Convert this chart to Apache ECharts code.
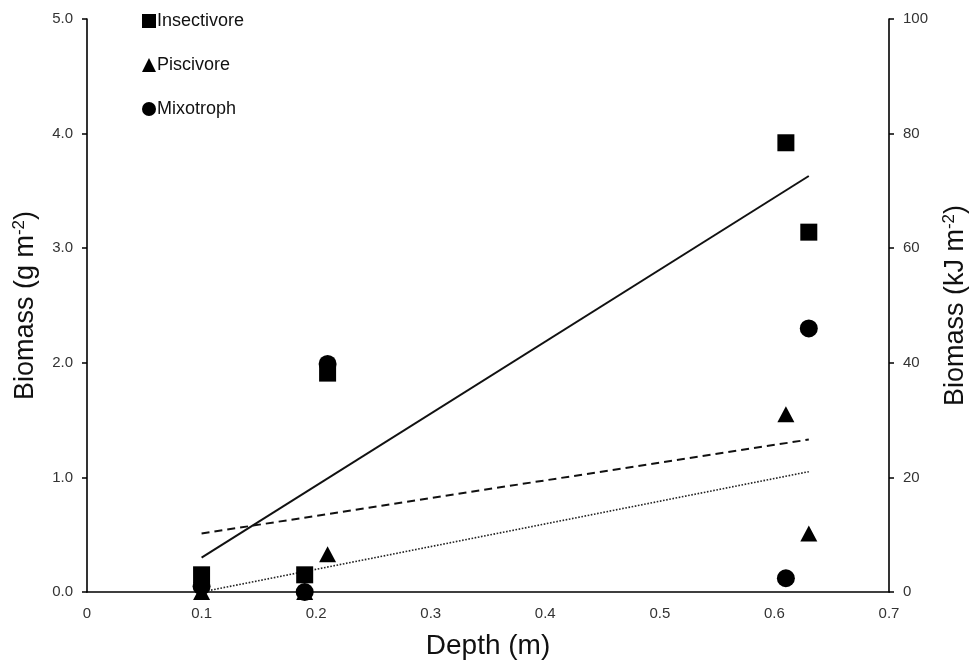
<!DOCTYPE html>
<html>
<head>
<meta charset="utf-8">
<title>Biomass by depth</title>
<script src="https://cdn.jsdelivr.net/npm/echarts@6/dist/echarts.min.js"></script>
<style>
  html, body { margin: 0; padding: 0; background: #fff; }
  #chart { width: 973px; height: 664px; }
</style>
</head>
<body>
<div id="chart"></div>
<script>
// Sampling depths (m)
const depths = [0.10, 0.19, 0.21, 0.61, 0.63];

// Biomass (g m-2) per feeding guild at each depth
const insectivore = [0.15, 0.15, 1.91, 3.92, 3.14];
const piscivore   = [0.00, 0.00, 0.33, 1.55, 0.51];
const mixotroph   = [0.05, 0.00, 1.99, 0.12, 2.30];

// Fitted trend lines: [depth, biomass] at start and end
const insectivoreFit = [[0.10, 0.30], [0.63, 3.63]];
const mixotrophFit   = [[0.10, 0.51], [0.63, 1.33]];
const piscivoreFit   = [[0.10, 0.00], [0.63, 1.05]];

// Axis settings
const depthTicks = [0, 0.1, 0.2, 0.3, 0.4, 0.5, 0.6, 0.7];
const gramTicks = [0, 1, 2, 3, 4, 5];
const energyTicks = [0, 20, 40, 60, 80, 100];

const pairs = (xs, ys) => xs.map((x, i) => [x, ys[i]]);

const FONT = '"Liberation Sans", Arial, sans-serif';
const axisLine = { show: true, lineStyle: { color: '#000', width: 1.6 } };
const supStyle = { fontFamily: FONT, fontSize: 17, color: '#111', verticalAlign: 'top', lineHeight: 30, padding: [0, 0, 12, 0] };

const chart = echarts.init(document.getElementById('chart'), null, { renderer: 'canvas' });

chart.setOption({
  animation: false,
  backgroundColor: '#fff',
  textStyle: { fontFamily: FONT },
  grid: { left: 87, right: 84, top: 19, bottom: 72, containLabel: false, outerBoundsMode: 'none' },
  legend: {
    orient: 'vertical',
    left: 137,
    top: 7,
    itemWidth: 14,
    itemHeight: 14,
    itemGap: 26,
    textStyle: { fontFamily: FONT, fontSize: 18, color: '#111', padding: [0, 0, 0, -4] },
    data: ['Insectivore', 'Piscivore', 'Mixotroph']
  },
  xAxis: {
    type: 'value',
    min: depthTicks[0],
    max: depthTicks[depthTicks.length - 1],
    interval: 0.1,
    name: 'Depth (m)',
    nameLocation: 'middle',
    nameGap: 40,
    nameTextStyle: { fontFamily: FONT, fontSize: 28, color: '#111' },
    axisLine: axisLine,
    axisTick: { show: false },
    splitLine: { show: false },
    axisLabel: {
      margin: 14,
      fontSize: 15,
      color: '#333',
      formatter: v => (v === 0 ? '0' : v.toFixed(1))
    }
  },
  yAxis: [
    {
      type: 'value',
      position: 'left',
      min: gramTicks[0],
      max: gramTicks[gramTicks.length - 1],
      interval: 1,
      name: 'Biomass (g m{sup|-2})',
      nameLocation: 'middle',
      nameRotate: 90,
      nameGap: 46,
      nameTextStyle: { fontFamily: FONT, fontSize: 27, color: '#111', rich: { sup: supStyle } },
      axisLine: axisLine,
      axisTick: { show: true, inside: false, length: 5, lineStyle: { color: '#000', width: 1.5 } },
      splitLine: { show: false },
      axisLabel: { margin: 14, fontSize: 15, color: '#333', formatter: v => v.toFixed(1) }
    },
    {
      type: 'value',
      position: 'right',
      min: energyTicks[0],
      max: energyTicks[energyTicks.length - 1],
      interval: 20,
      name: 'Biomass (kJ m{sup|-2})',
      nameLocation: 'middle',
      nameRotate: 90,
      nameGap: 52,
      nameTextStyle: { fontFamily: FONT, fontSize: 27, color: '#111', rich: { sup: supStyle } },
      axisLine: axisLine,
      axisTick: { show: true, inside: false, length: 5, lineStyle: { color: '#000', width: 1.5 } },
      splitLine: { show: false },
      axisLabel: { margin: 14, fontSize: 15, color: '#333' }
    }
  ],
  series: [
    {
      name: 'Insectivore-fit',
      type: 'line',
      data: insectivoreFit,
      symbol: 'none',
      silent: true,
      lineStyle: { color: '#111', width: 2, type: 'solid' },
      z: 1
    },
    {
      name: 'Mixotroph-fit',
      type: 'line',
      data: mixotrophFit,
      symbol: 'none',
      silent: true,
      lineStyle: { color: '#111', width: 2, type: [8, 5] },
      z: 1
    },
    {
      name: 'Piscivore-fit',
      type: 'line',
      data: piscivoreFit,
      symbol: 'none',
      silent: true,
      lineStyle: { color: '#222', width: 1.6, type: [1.6, 1.6] },
      z: 1
    },
    {
      name: 'Mixotroph',
      type: 'scatter',
      data: pairs(depths, mixotroph),
      symbol: 'circle',
      symbolSize: 18,
      clip: false,
      itemStyle: { color: '#000', opacity: 1 },
      z: 3
    },
    {
      name: 'Piscivore',
      type: 'scatter',
      data: pairs(depths, piscivore),
      symbol: 'triangle',
      symbolSize: [17, 16],
      clip: false,
      itemStyle: { color: '#000', opacity: 1 },
      z: 3
    },
    {
      name: 'Insectivore',
      type: 'scatter',
      data: pairs(depths, insectivore),
      symbol: 'rect',
      symbolSize: 17,
      clip: false,
      itemStyle: { color: '#000', opacity: 1 },
      z: 4
    }
  ]
});
</script>
</body>
</html>
